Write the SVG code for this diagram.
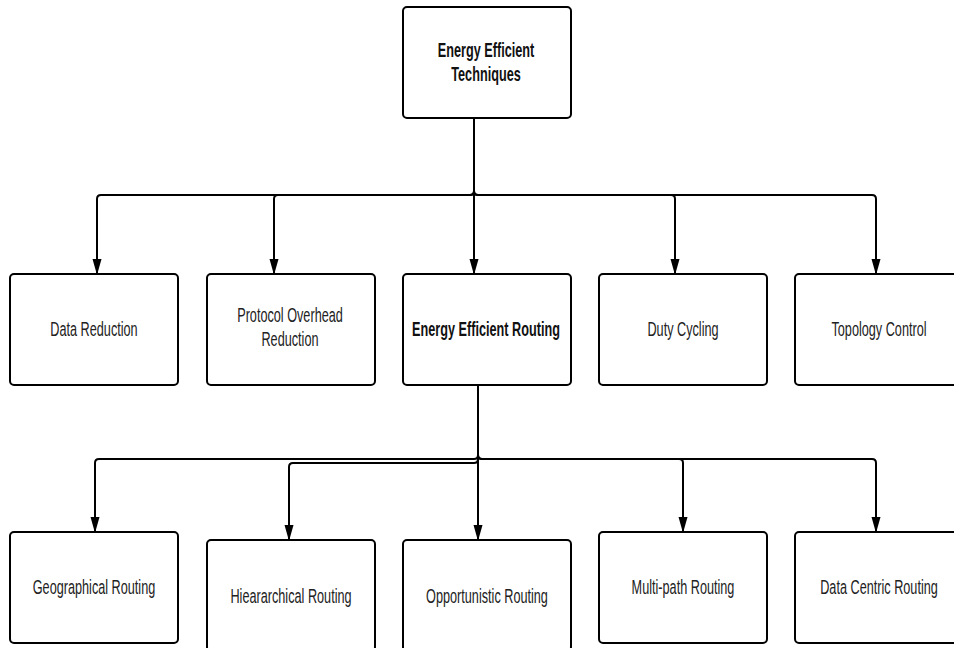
<svg xmlns="http://www.w3.org/2000/svg" width="954" height="648" viewBox="0 0 954 648">
<defs>
<marker id="arr" viewBox="0 0 16 10" refX="15" refY="5" markerWidth="16" markerHeight="10" markerUnits="userSpaceOnUse" orient="auto">
<path d="M0,0.5 L16,5 L0,9.5 Z" fill="#000"/>
</marker>
<style>
.box{fill:#fff;stroke:#000;stroke-width:2}
.lbl{font-family:"Liberation Sans",Arial,sans-serif;font-size:19.5px;fill:#222;text-anchor:middle}
.b{font-weight:bold;fill:#111}
.con{fill:none;stroke:#000;stroke-width:2}
.con path{marker-end:url(#arr)}
</style>
</defs>
<rect width="954" height="648" fill="#fff"/>
<g id="connectors" class="con">
<path d="M474,118 V191 Q474,195 470,195 H101 Q97,195 97,199 V274"/>
<path d="M474,118 V191 Q474,195 470,195 H278 Q274,195 274,199 V274"/>
<path d="M474,118 V274"/>
<path d="M474,118 V191 Q474,195 478,195 H671 Q675,195 675,199 V274"/>
<path d="M474,118 V191 Q474,195 478,195 H872 Q876,195 876,199 V274"/>
<path d="M478,385 V455 Q478,459 474,459 H99 Q95,459 95,463 V532"/>
<path d="M478,385 V459 Q478,463 474,463 H293 Q289,463 289,467 V540"/>
<path d="M478,385 V540"/>
<path d="M478,385 V455 Q478,459 482,459 H679 Q683,459 683,463 V532"/>
<path d="M478,385 V455 Q478,459 482,459 H872 Q876,459 876,463 V532"/>
</g>
<g id="n-root"><rect class="box" x="403" y="7" width="168" height="111" rx="4"/><text class="lbl b" transform="translate(486,57) scale(0.65,1)">Energy Efficient</text><text class="lbl b" transform="translate(486,80.5) scale(0.65,1)">Techniques</text></g>
<g id="n-data-reduction"><rect class="box" x="10" y="274" width="168" height="111" rx="4"/><text class="lbl" transform="translate(94,336) scale(0.65,1)">Data Reduction</text></g>
<g id="n-protocol"><rect class="box" x="207" y="274" width="168" height="111" rx="4"/><text class="lbl" transform="translate(290,322) scale(0.65,1)">Protocol Overhead</text><text class="lbl" transform="translate(290,345.5) scale(0.65,1)">Reduction</text></g>
<g id="n-routing"><rect class="box" x="403" y="274" width="168" height="111" rx="4"/><text class="lbl b" transform="translate(486,336) scale(0.65,1)">Energy Efficient Routing</text></g>
<g id="n-duty"><rect class="box" x="599" y="274" width="168" height="111" rx="4"/><text class="lbl" transform="translate(683,336) scale(0.65,1)">Duty Cycling</text></g>
<g id="n-topology"><rect class="box" x="795" y="274" width="168" height="111" rx="4"/><text class="lbl" transform="translate(879,336) scale(0.65,1)">Topology Control</text></g>
<g id="n-geo"><rect class="box" x="10" y="532" width="168" height="111" rx="4"/><text class="lbl" transform="translate(94,594) scale(0.65,1)">Geographical Routing</text></g>
<g id="n-hier"><rect class="box" x="207" y="540" width="168" height="111" rx="4"/><text class="lbl" transform="translate(291,603) scale(0.65,1)">Hieararchical Routing</text></g>
<g id="n-opp"><rect class="box" x="403" y="540" width="168" height="111" rx="4"/><text class="lbl" transform="translate(487,603) scale(0.65,1)">Opportunistic Routing</text></g>
<g id="n-multi"><rect class="box" x="599" y="532" width="168" height="111" rx="4"/><text class="lbl" transform="translate(683,594) scale(0.65,1)">Multi-path Routing</text></g>
<g id="n-datacentric"><rect class="box" x="795" y="532" width="168" height="111" rx="4"/><text class="lbl" transform="translate(879,594) scale(0.65,1)">Data Centric Routing</text></g>
</svg>
